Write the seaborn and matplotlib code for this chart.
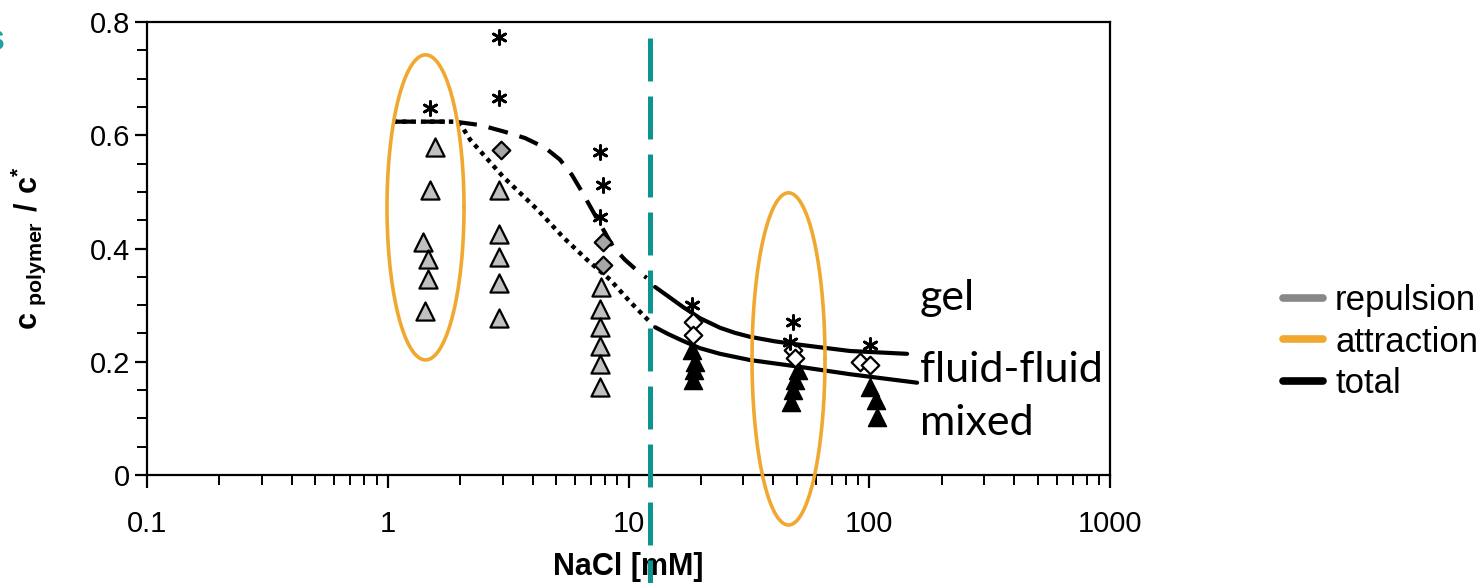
import numpy as np
import pandas as pd
import matplotlib
matplotlib.use("Agg")
import matplotlib.pyplot as plt
import seaborn as sns
from matplotlib.lines import Line2D

# ---------------- data ----------------
tri_gray_x = [1.57, 1.50, 1.40, 1.47, 1.47, 1.43,
              2.9, 2.9, 2.9, 2.9, 2.9,
              7.7, 7.6, 7.6, 7.6, 7.6, 7.6]
tri_gray_y = [0.580, 0.504, 0.412, 0.382, 0.346, 0.290,
              0.504, 0.426, 0.385, 0.339, 0.277,
              0.332, 0.293, 0.261, 0.228, 0.196, 0.155]

tri_black_x = [18.3, 18.9, 18.7, 18.5,
               50.6, 49.2, 48.2, 47.1,
               101.0, 106.6, 107.6]
tri_black_y = [0.221, 0.200, 0.186, 0.168,
               0.186, 0.168, 0.150, 0.129,
               0.155, 0.133, 0.103]

star_x = [1.50, 2.9, 2.9, 7.6, 7.8, 7.6, 18.4, 48.2, 46.9, 100.7]
star_y = [0.648, 0.774, 0.666, 0.571, 0.512, 0.456, 0.300, 0.270, 0.235, 0.230]

dia_gray_x = [2.95, 7.8, 7.8]
dia_gray_y = [0.574, 0.412, 0.371]

dia_white_x = [18.6, 18.5, 48.0, 49.0, 91.6, 100.7]
dia_white_y = [0.270, 0.247, 0.221, 0.207, 0.200, 0.194]

dotted_x = [1.05, 1.94, 2.07, 2.20, 3.01, 4.2, 5.35, 6.73, 8.38, 10.2, 12.3]
dotted_y = [0.624, 0.624, 0.610, 0.592, 0.527, 0.468, 0.420, 0.380, 0.345, 0.305, 0.270]

dashed_x = [1.05, 1.90, 2.42, 3.07, 3.72, 4.50, 5.19, 5.82, 6.41, 7.26, 8.63, 9.67, 10.8, 11.9]
dashed_y = [0.624, 0.624, 0.618, 0.606, 0.595, 0.578, 0.557, 0.530, 0.500, 0.459, 0.403,
            0.380, 0.362, 0.348]

gel_x = [12.9, 14.9, 16.8, 19.8, 24.0, 27.7, 32.0, 40.6, 51.5, 83.2, 143.6]
gel_y = [0.332, 0.313, 0.297, 0.277, 0.260, 0.251, 0.244, 0.236, 0.230, 0.219, 0.214]

ff_x = [12.9, 14.6, 16.8, 19.8, 24.0, 32.0, 51.5, 83.2, 158.0]
ff_y = [0.261, 0.249, 0.237, 0.224, 0.214, 0.203, 0.191, 0.178, 0.163]

nacl_threshold = 12.3
threshold_span = [0.772, -0.191]

# ellipses: centre (x, y), half-width in decades, half-height
ell_centres_x = [1.435, 46.2]
ell_centres_y = [0.4726, 0.205]
ell_halfw_dec = [0.160, 0.1516]
ell_halfh = [0.2694, 0.2933]

region_labels = ["gel", "fluid-fluid", "mixed"]
region_label_x = 162.0
region_label_y = [0.313, 0.186, 0.092]

legend_labels = ["repulsion", "attraction", "total"]
legend_colors = ["#888888", "#F0A830", "#000000"]

xticks = [0.1, 1, 10, 100, 1000]
xticklabels = ["0.1", "1", "10", "100", "1000"]
yticks = [0, 0.2, 0.4, 0.6, 0.8]
yticklabels = ["0", "0.2", "0.4", "0.6", "0.8"]

# ---------------- style ----------------
sns.set_theme(style="ticks")
plt.rcParams["font.family"] = ["Liberation Sans", "DejaVu Sans"]
plt.rcParams["mathtext.fontset"] = "custom"
plt.rcParams["mathtext.bf"] = "Liberation Sans:bold"
plt.rcParams["mathtext.rm"] = "Liberation Sans"
plt.rcParams["text.color"] = "black"
plt.rcParams["axes.labelcolor"] = "black"
plt.rcParams["xtick.color"] = "black"
plt.rcParams["ytick.color"] = "black"
plt.rcParams["axes.edgecolor"] = "black"

ORANGE = "#F0A830"
TEAL = "#0E9490"

fig = plt.figure(figsize=(14.8, 5.83), dpi=100)
ax = fig.add_axes([147 / 1480, 1 - 475 / 583, (1110 - 147) / 1480, (475 - 22) / 583])
ax.set_xscale("log")

# curves
sns.lineplot(x=dotted_x, y=dotted_y, ax=ax, color="black", lw=3.2,
             linestyle=(0, (1, 1.1)), sort=False, estimator=None)
sns.lineplot(x=dashed_x, y=dashed_y, ax=ax, color="black", lw=3.0,
             linestyle=(0, (4.8, 2.9)), sort=False, estimator=None)
sns.lineplot(x=gel_x, y=gel_y, ax=ax, color="black", lw=3.0, sort=False, estimator=None)
sns.lineplot(x=ff_x, y=ff_y, ax=ax, color="black", lw=3.0, sort=False, estimator=None)

# markers
sns.scatterplot(x=tri_gray_x, y=tri_gray_y, ax=ax, marker="^", s=170,
                color="#C0C0C0", edgecolor="black", linewidth=1.6, zorder=4)
sns.scatterplot(x=tri_black_x, y=tri_black_y, ax=ax, marker="^", s=170,
                color="black", edgecolor="black", linewidth=1.0, zorder=4)
sns.scatterplot(x=dia_gray_x, y=dia_gray_y, ax=ax, marker="D", s=80,
                color="#A6A6A6", edgecolor="black", linewidth=1.6, zorder=4)
sns.scatterplot(x=dia_white_x, y=dia_white_y, ax=ax, marker="D", s=80,
                color="white", edgecolor="black", linewidth=1.6, zorder=4)
sns.scatterplot(x=star_x, y=star_y, ax=ax, marker=(6, 2, 0), s=100,
                color="black", edgecolor="black", linewidth=2.0, zorder=4)

# ellipses (drawn in log space)
t = np.linspace(0, 2 * np.pi, 400)
for cx, cy, hw, hh in zip(ell_centres_x, ell_centres_y, ell_halfw_dec, ell_halfh):
    ex = 10 ** (np.log10(cx) + hw * np.cos(t))
    ey = cy + hh * np.sin(t)
    ax.plot(ex, ey, color=ORANGE, lw=2.6, clip_on=False, zorder=3)

# threshold line
ax.plot([nacl_threshold, nacl_threshold], threshold_span, color=TEAL, lw=3.6,
        linestyle=(0, (8.6, 3.0)), clip_on=False, zorder=5)

# region labels
for lab, yy in zip(region_labels, region_label_y):
    ax.text(region_label_x, yy, lab, fontsize=31, family=["Lato", "DejaVu Sans"],
            color="black", ha="left", va="center", clip_on=False)

# axes
ax.set_xlim(0.1, 1000)
ax.set_ylim(0, 0.8)
ax.set_xticks(xticks)
ax.set_xticklabels(xticklabels)
ax.set_yticks(yticks)
ax.set_yticklabels(yticklabels)
ax.yaxis.set_minor_locator(matplotlib.ticker.MultipleLocator(0.05))
ax.xaxis.set_minor_locator(matplotlib.ticker.LogLocator(base=10, subs=np.arange(2, 10)))
ax.xaxis.set_minor_formatter(matplotlib.ticker.NullFormatter())
ax.tick_params(axis="both", which="major", direction="out", length=9, width=1.6,
               labelsize=21, colors="black")
ax.tick_params(axis="x", which="major", pad=16)
ax.tick_params(axis="y", which="major", pad=3)
ax.tick_params(axis="both", which="minor", direction="out", length=7, width=1.4,
               colors="black")
for sp in ax.spines.values():
    sp.set_visible(True)
    sp.set_linewidth(1.6)
    sp.set_color("black")
ax.grid(False)
ax.set_facecolor("white")

ax.set_xlabel("NaCl [mM]", fontsize=22, fontweight="bold", labelpad=10, color="black")
ax.set_ylabel(r"$\mathbf{c}_{\mathbf{\ polymer}}\mathbf{\ /\ c^{*}}$", fontsize=22,
              labelpad=30, color="black")

# legend
handles = [Line2D([0], [0], color=c, lw=5.5) for c in legend_colors]
fig.legend(handles, legend_labels, loc="center left", bbox_to_anchor=(1283 / 1480, 1 - 342 / 583),
           frameon=False, fontsize=25, handlelength=1.15, handletextpad=0.35,
           labelspacing=0.25, borderaxespad=0, borderpad=0, labelcolor="black")

# cut-off letter at top-left
fig.text(-15 / 1480, 1 - 40 / 583, "s", color="#1BA3A3", fontsize=26,
         fontweight="bold", ha="left", va="center")

fig.savefig("out.png", dpi=100)
